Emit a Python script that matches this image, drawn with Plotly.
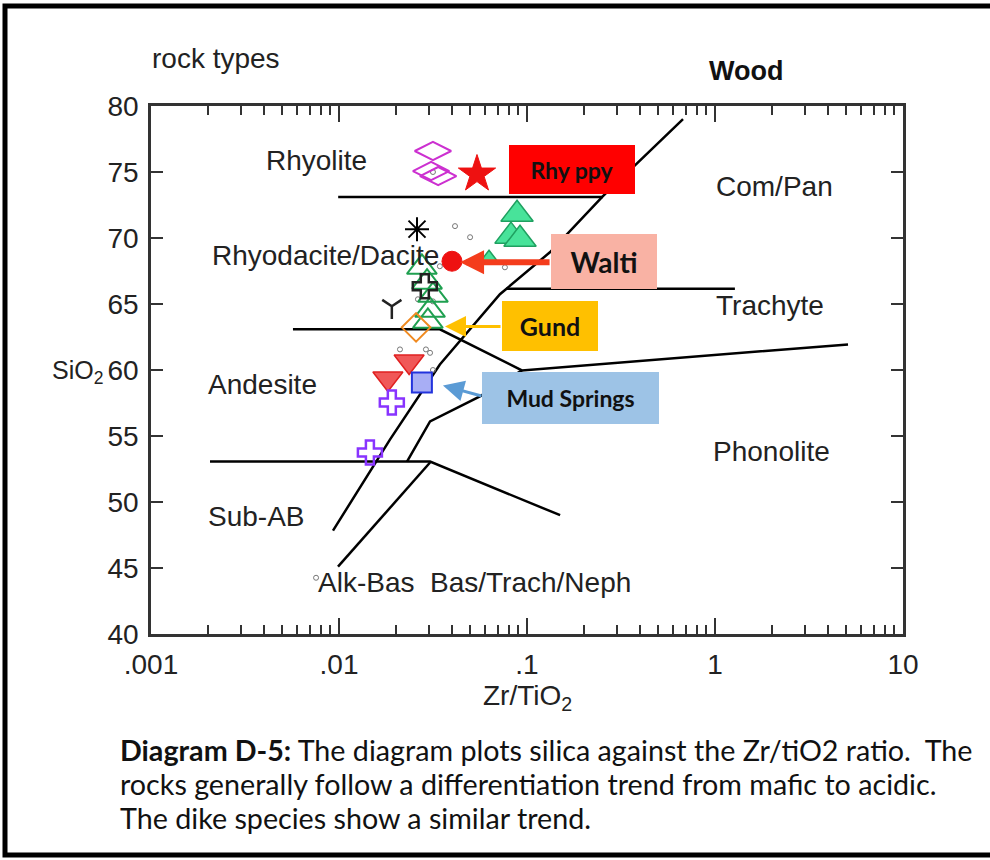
import math
import plotly.graph_objects as go

# ---------------- data ----------------
# field boundary lines (Zr/TiO2, SiO2)
line_rhy_x = [0.0099, 0.2535]
line_rhy_y = [73.1, 73.1]
line_main_x = [0.00929, 0.01866, 0.0344, 0.0718, 0.1324, 0.2535, 0.676]
line_main_y = [47.83, 54.73, 60.42, 65.74, 68.92, 73.17, 79.01]
line_alk_x = [0.00988, 0.0305]
line_alk_y = [45.1, 52.99]
line_tran_x = [0.0230, 0.0305, 0.0562, 0.094]
line_tran_y = [53.06, 56.1, 58.0, 59.97]
line_53_x = [0.00206, 0.0305, 0.150]
line_53_y = [53.06, 53.06, 49.0]
line_63_x = [0.00569, 0.0344, 0.094, 5.10]
line_63_y = [63.08, 63.08, 59.97, 61.94]
line_66_x = [0.0773, 1.276]
line_66_y = [66.15, 66.15]

# samples
mag_x = [0.0316, 0.0309, 0.0337]
mag_y = [76.59, 75.07, 74.69]
star_x = [0.0542]
star_y = [74.84]
ast_x = [0.026]
ast_y = [70.67]
redc_x = [0.0399]
redc_y = [68.24]
gtri_x = [0.0885, 0.0822, 0.0918]
gtri_y = [71.8, 70.14, 69.9]
gtri_s_x = [0.0628]
gtri_s_y = [68.39]
otri_x = [0.0276, 0.0294, 0.0316, 0.0305, 0.0297]
otri_y = [67.78, 66.65, 65.66, 64.52, 63.69]
bcross_x = [0.0286]
bcross_y = [66.34]
yy_x = [0.0191]
yy_y = [64.83]
orng_x = [0.0257]
orng_y = [63.23]
rdown_x = [0.0236, 0.0182]
rdown_y = [60.65, 59.36]
bsq_x = [0.0276]
bsq_y = [59.06]
pcross_x = [0.0191, 0.0146]
pcross_y = [57.54, 53.75]
dots_x = [0.0414, 0.0498, 0.0763, 0.0344, 0.0316, 0.0263, 0.0316, 0.0211, 0.029, 0.0305, 0.0316, 0.00755]
dots_y = [70.9, 70.06, 67.78, 67.86, 75.0, 65.36, 65.2, 61.56, 61.56, 61.3, 60.0, 44.26]

x_tickvals = [0.001, 0.01, 0.1, 1, 10]
x_ticktext = [".001", ".01", ".1", "1", "10"]
y_tickvals = [40, 45, 50, 55, 60, 65, 70, 75, 80]

field_labels = ["Rhyolite", "Rhyodacite/Dacite", "Andesite", "Sub-AB", "Alk-Bas",
                "Bas/Trach/Neph", "Com/Pan", "Trachyte", "Phonolite"]
field_lab_x = [0.00755, 0.00843, 0.00394, 0.00366, 0.0139, 0.105, 2.06, 1.96, 2.0]
field_lab_y = [75.9, 68.7, 58.9, 48.9, 43.9, 43.9, 73.9, 64.9, 53.8]

# ---------------- figure ----------------
W, H = 990, 860
L, R, T, B = 151, 903, 106, 634
fig = go.Figure()

def px2paper(px, py):
    return (px - L) / (R - L), (B - py) / (B - T)

lk = dict(color="black", width=2.5)
for xs, ys in [(line_rhy_x, line_rhy_y), (line_main_x, line_main_y), (line_alk_x, line_alk_y),
               (line_tran_x, line_tran_y), (line_53_x, line_53_y), (line_63_x, line_63_y),
               (line_66_x, line_66_y)]:
    fig.add_trace(go.Scatter(x=xs, y=ys, mode="lines", line=lk, hoverinfo="skip"))

def mk(xs, ys, symbol, size, color, lcolor, lw=1.5):
    fig.add_trace(go.Scatter(x=xs, y=ys, mode="markers",
                             marker=dict(symbol=symbol, size=size, color=color,
                                         line=dict(color=lcolor, width=lw))))

mk(dots_x, dots_y, "circle-open", 5, "#777", "#777", 1)
mk(mag_x, mag_y, "diamond-wide-open", 26, "#cc30d0", "#cc30d0", 2)
mk(star_x, star_y, "star", 28, "#ee1111", "#ee1111", 1)
mk(ast_x, ast_y, "asterisk-open", 20, "black", "black", 2)
mk(redc_x, redc_y, "circle", 20, "#ee1111", "#ee1111", 1)
mk(gtri_x, gtri_y, "triangle-up", 28, "#48e39a", "#1fa060", 1.5)
mk(gtri_s_x, gtri_s_y, "triangle-up", 18, "#48e39a", "#1fa060", 1.5)
mk(otri_x, otri_y, "triangle-up-open", 26, "#1fa050", "#1fa050", 2)
mk(bcross_x, bcross_y, "cross-open", 20, "#222", "#222", 2.5)
mk(yy_x, yy_y, "y-down-open", 16, "#222", "#222", 2.5)
mk(orng_x, orng_y, "diamond-open", 22, "#f08a20", "#f08a20", 2)
mk(rdown_x, rdown_y, "triangle-down", 26, "#f05858", "#e02020", 1.5)
mk(bsq_x, bsq_y, "square", 20, "#a8aef5", "#2233dd", 2)
mk(pcross_x, pcross_y, "cross-open", 20, "#8833ff", "#8833ff", 2.5)

lab_font = dict(family="Liberation Sans, Arial", size=28, color="#222")
for t, x, y in zip(field_labels, field_lab_x, field_lab_y):
    fig.add_annotation(x=math.log10(x), y=y, xref="x", yref="y", text=t, showarrow=False,
                       font=lab_font)

# arrows (drawn first, boxes on top)
arrows = [(-1.356, 68.16, -0.872, 68.16, "#f43c1c", 6, 0.8),
          (-1.436, 63.3, -1.133, 63.3, "#ffc000", 3, 1.4),
          (-1.447, 58.83, -1.234, 58.0, "#5b9bd5", 3, 1.4)]
for hx, hy, tx, ty, c, w, s in arrows:
    fig.add_annotation(x=hx, y=hy, ax=tx, ay=ty, xref="x", yref="y", axref="x", ayref="y",
                       text="", showarrow=True, arrowhead=2, arrowsize=s,
                       arrowwidth=w, arrowcolor=c)

boxes = [("Rhy ppy", -0.761, 75.22, 126, 49, "#ff0000", 23),
         ("Walti", -0.590, 68.24, 106, 55, "#f9b2a4", 28),
         ("Gund", -0.878, 63.31, 96, 50, "#ffc000", 25),
         ("Mud Springs", -0.766, 57.85, 177, 52, "#9dc3e6", 23)]
for t, x, y, w, h, c, fs in boxes:
    fig.add_annotation(x=x, y=y, xref="x", yref="y", text="<b>%s</b>" % t, showarrow=False,
                       width=w, height=h, bgcolor=c, borderpad=0, borderwidth=0,
                       font=dict(family="Lato, Open Sans", size=fs, color="#111"))

# titles
def add_text(px, py, text, size, xanchor="center", family="Liberation Sans, Arial", color="#222"):
    xp, yp = px2paper(px, py)
    fig.add_annotation(x=xp, y=yp, xref="paper", yref="paper", text=text, showarrow=False,
                       xanchor=xanchor, yanchor="middle", font=dict(family=family, size=size, color=color))

add_text(216, 58, "rock types", 28)
add_text(746, 71, "<b>Wood</b>", 27, color="#111")
add_text(105, 372, "SiO<sub>2</sub>", 25, xanchor="right")
add_text(527, 697, "Zr/TiO<sub>2</sub>", 28)

cap_font = "Lato"
cap_size = 28.7
add_text(118, 750, "<b>Diagram D-5:</b> The diagram plots silica against the Zr/tiO2 ratio.  The", cap_size,
         xanchor="left", family=cap_font, color="#111")
add_text(118, 784, "rocks generally follow a differentiation trend from mafic to acidic.", cap_size,
         xanchor="left", family=cap_font, color="#111")
add_text(118, 818, "The dike species show a similar trend.", cap_size,
         xanchor="left", family=cap_font, color="#111")

# outer frame
x0, y0 = px2paper(5, 6)
x1, y1 = px2paper(1000, 855)
fig.add_shape(type="rect", xref="paper", yref="paper", x0=x0, y0=y1, x1=x1, y1=y0,
              line=dict(color="black", width=5), layer="above")

minor_vals = [m * 10 ** e for e in range(-3, 1) for m in range(2, 10)]
axis_common = dict(showline=True, linecolor="#333", linewidth=2.5, mirror="ticks",
                   ticks="inside", tickcolor="#333", tickwidth=2, showgrid=False, zeroline=False,
                   tickfont=dict(family="Liberation Sans, Arial", size=28, color="#222"))
fig.update_xaxes(type="log", range=[-3, 1], tickvals=x_tickvals, ticktext=x_ticktext,
                 ticklen=16, ticklabelstandoff=4,
                 minor=dict(tickvals=minor_vals, ticks="inside", ticklen=9, tickwidth=2,
                            tickcolor="#333", showgrid=False),
                 **axis_common)
fig.update_yaxes(range=[40, 80], tickvals=y_tickvals, ticklen=12, ticklabelstandoff=4, **axis_common)

fig.update_layout(width=W, height=H, margin=dict(l=L, r=W - R, t=T, b=H - B),
                  plot_bgcolor="white", paper_bgcolor="white", showlegend=False)

fig.write_html("out.html")
